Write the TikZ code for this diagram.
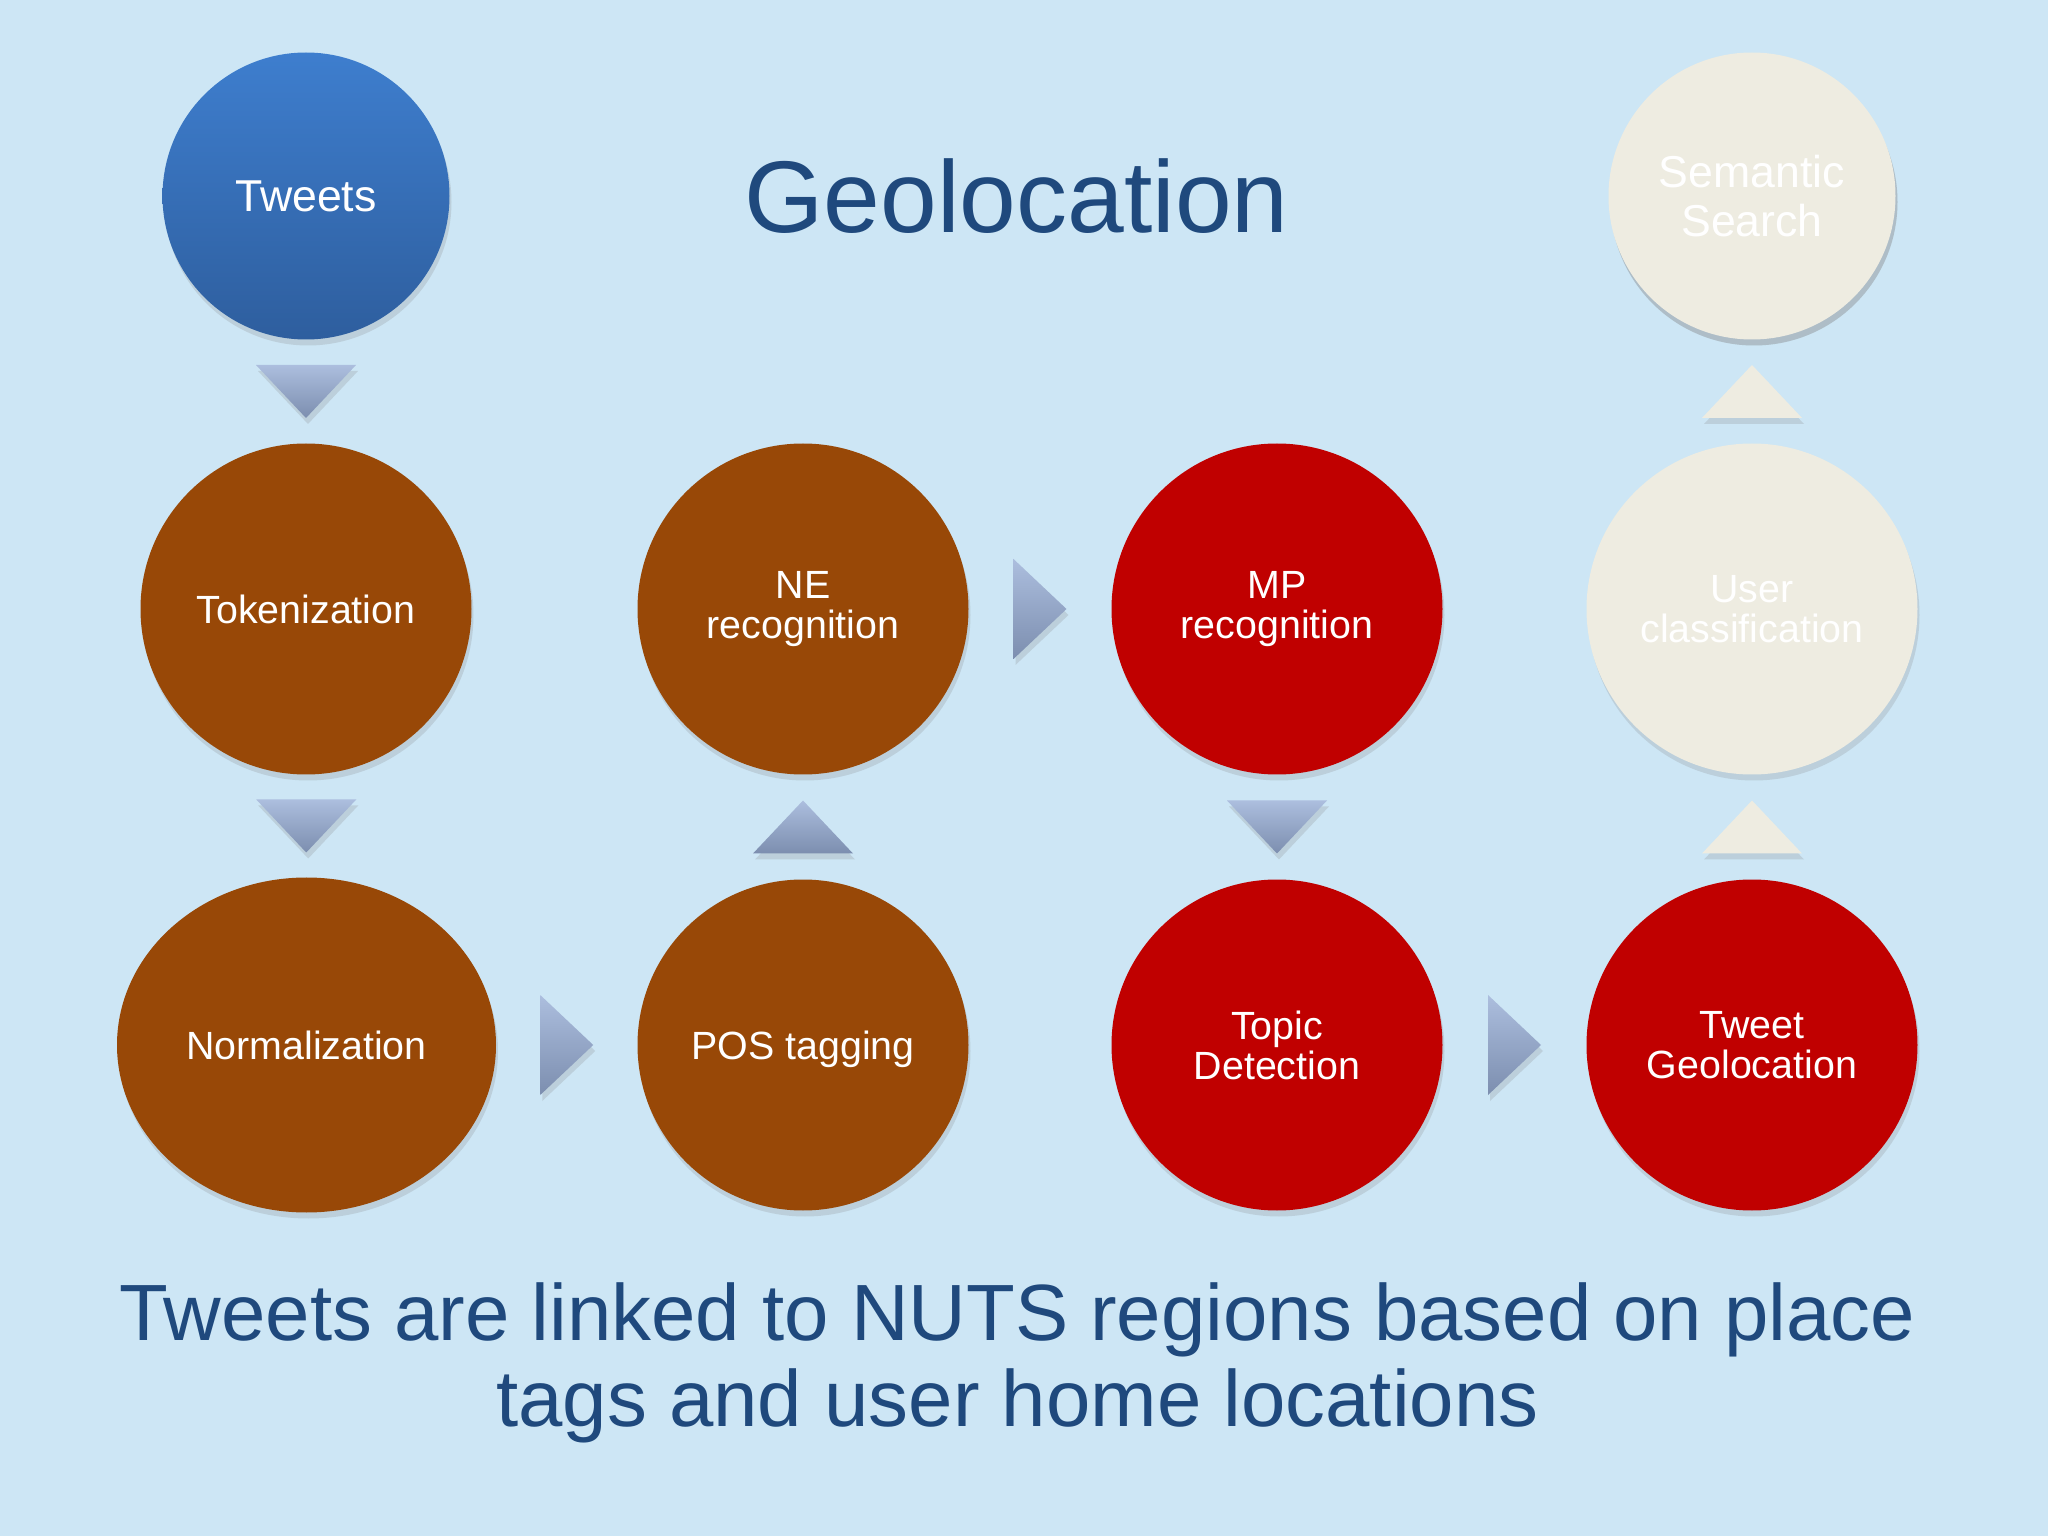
\documentclass[tikz,border=0pt]{standalone}
\usepackage{fontspec}
\setmainfont{Liberation Sans}
\usetikzlibrary{shapes.geometric,shadows}
\definecolor{bgblue}{RGB}{205,230,245}
\definecolor{titleblue}{RGB}{31,73,125}
\definecolor{rust}{RGB}{152,72,7}
\definecolor{deepred}{RGB}{192,0,0}
\definecolor{sand}{RGB}{238,236,225}
\definecolor{tweettop}{RGB}{62,126,206}
\definecolor{tweetbot}{RGB}{46,94,158}
\definecolor{trihi}{RGB}{172,190,222}
\definecolor{trilo}{RGB}{124,142,175}
\tikzset{
  softshadow/.style={drop shadow={opacity=.22,shadow xshift=.2mm,shadow yshift=-.6mm}},
  stage/.style={circle,inner sep=0pt,minimum size=3.31cm,text=white,align=center,
    font=\fontsize{11.2}{11.4}\selectfont,softshadow},
  prep/.style={stage,fill=rust},
  locate/.style={stage,fill=deepred},
  later/.style={stage,fill=sand},
  endpoint/.style={stage,minimum size=2.87cm,font=\fontsize{12.7}{13.7}\selectfont},
  bluetri/.style={top color=trihi,bottom color=trilo,softshadow},
  paletri/.style={fill=sand,softshadow},
  downtri/.pic={\path[#1] (-.5,.265) -- (.5,.265) -- (0,-.265) -- cycle;},
  uptri/.pic={\path[#1] (-.5,-.265) -- (.5,-.265) -- (0,.265) -- cycle;},
  righttri/.pic={\path[#1] (-.265,.5) -- (.265,0) -- (-.265,-.5) -- cycle;}
}

\begin{document}
\begin{tikzpicture}
  \fill[bgblue] (0,0) rectangle (20.48,-15.36);
  \useasboundingbox (0,0) rectangle (20.48,-15.36);

  \node[endpoint,top color=tweettop,bottom color=tweetbot] (tweets) at (3.06,-1.96) {Tweets};
  \node[prep] (token) at (3.06,-6.09) {Tokenization};
  \node[prep,ellipse,minimum width=3.79cm,minimum height=3.35cm] (norm) at (3.065,-10.45) {Normalization};
  \node[prep,text depth=0pt] (pos) at (8.03,-10.45) {POS tagging};
  \node[prep] (ne) at (8.03,-6.09) {NE\\recognition};
  \node[locate] (mp) at (12.77,-6.09) {MP\\recognition};
  \node[locate] (topic) at (12.77,-10.45) {Topic\\Detection};
  \node[locate] (geo) at (17.52,-10.45) {Tweet\\Geolocation};
  \node[later] (user) at (17.52,-6.09) {User\\classification};
  \node[later,endpoint] (search) at (17.52,-1.96) {Semantic\\Search};

  \node[anchor=base,text=titleblue,font=\fontsize{29}{35}\selectfont] (heading) at (10.165,-2.33) {Geolocation};
  \node[anchor=north,text=titleblue,align=center,font=\fontsize{22.7}{24.5}\selectfont] (caption) at (10.175,-12.70)
    {Tweets are linked to NUTS regions based on place\\tags and user home locations};

  \path (tweets.south) -- (token.north) coordinate[midway] (t1);
  \path (token.south) -- (norm.north) coordinate[midway] (t2);
  \path (norm.east) -- (pos.west) coordinate[midway] (t3);
  \path (pos.north) -- (ne.south) coordinate[midway] (t4);
  \path (ne.east) -- (mp.west) coordinate[midway] (t5);
  \path (mp.south) -- (topic.north) coordinate[midway] (t6);
  \path (topic.east) -- (geo.west) coordinate[midway] (t7);
  \path (geo.north) -- (user.south) coordinate[midway] (t8);
  \path (user.north) -- (search.south) coordinate[midway] (t9);

  \pic at (t1) {downtri=bluetri};
  \pic at (t2) {downtri=bluetri};
  \pic at (t3) {righttri=bluetri};
  \pic at (t4) {uptri=bluetri};
  \pic at (t5) {righttri=bluetri};
  \pic at (t6) {downtri=bluetri};
  \pic at (t7) {righttri=bluetri};
  \pic at (t8) {uptri=paletri};
  \pic at (t9) {uptri=paletri};
\end{tikzpicture}
\end{document}
